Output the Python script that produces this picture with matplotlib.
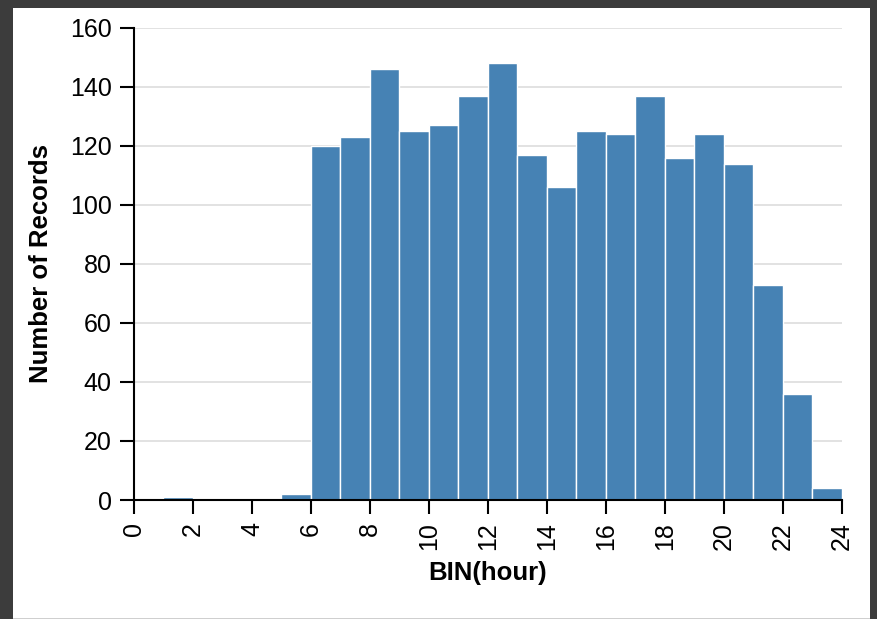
import matplotlib.pyplot as plt
import matplotlib.patches as patches
import numpy as np

plt.rcParams['font.family'] = ['Liberation Sans', 'DejaVu Sans']

# hourly bins (left edges) and record counts
hours = list(range(24))
counts = [0, 1, 0, 0, 0, 2, 120, 123, 146, 125, 127, 137, 148, 117,
          106, 125, 124, 137, 116, 124, 114, 73, 36, 4]
xticks = list(range(0, 25, 2))
yticks = list(range(0, 161, 20))

fig = plt.figure(figsize=(8.78, 6.19), dpi=100)
fig.patch.set_facecolor('#3c3c3c')
fig.patches.append(patches.Rectangle((13 / 878, 0), 857 / 878, 611 / 619,
                                     transform=fig.transFigure,
                                     facecolor='white', edgecolor='none', zorder=-10))
fig.patches.append(patches.Rectangle((13 / 878, 0), 857 / 878, 1.5 / 619,
                                     transform=fig.transFigure,
                                     facecolor='#cfcfcf', edgecolor='none', zorder=-9))

ax = fig.add_axes([134 / 878, 1 - 500 / 619, 708 / 878, 472 / 619])
ax.set_zorder(1)
ax.set_facecolor('white')

h = np.array(hours)
c = np.array(counts)
mask = c > 0
ax.bar(h[mask], c[mask], width=1, align='edge', color='#4682b4',
       edgecolor='white', linewidth=1.0, zorder=2)

ax.set_xlim(0, 24)
ax.set_ylim(0, 160)
ax.set_xticks(xticks)
ax.set_yticks(yticks)
ax.set_xticklabels([str(t) for t in xticks], rotation=90)

ax.yaxis.grid(True, color='#dddddd', linewidth=1.2, zorder=0)
ax.set_axisbelow(True)

for s in ['top', 'right']:
    ax.spines[s].set_visible(False)
for s in ['left', 'bottom']:
    ax.spines[s].set_linewidth(1.5)
    ax.spines[s].set_color('black')
    ax.spines[s].set_zorder(3)

ax.tick_params(axis='both', length=10, width=1.5, pad=6, labelsize=18, colors='black')

ax.set_xlabel('BIN(hour)', fontsize=18.5, fontweight='bold', labelpad=8)
ax.set_ylabel('Number of Records', fontsize=18.5, fontweight='bold', labelpad=12)

plt.savefig('out.png', dpi=100, facecolor=fig.get_facecolor())
